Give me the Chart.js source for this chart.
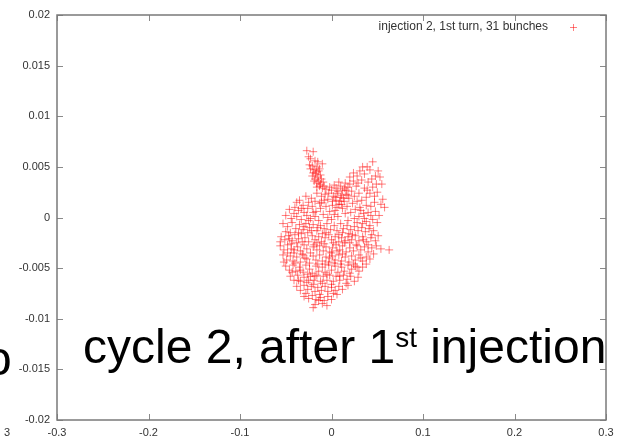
<!DOCTYPE html>
<html>
<head>
<meta charset="utf-8">
<script src="https://cdn.jsdelivr.net/npm/chart.js@4"></script>
<style>
  html, body { margin: 0; padding: 0; background: #fff; }
  #wrap { position: relative; width: 628px; height: 441px; overflow: hidden; font-family: "Liberation Sans", Arial, sans-serif; }
  #plot { position: absolute; left: 0; top: 0; }
  .big { position: absolute; font-size: 48px; line-height: 48px; color: #000; white-space: nowrap; }
  .big sup { font-size: 28px; vertical-align: baseline; position: relative; top: -16px; }
  .small { position: absolute; font-size: 11px; line-height: 12px; color: #333; }
</style>
</head>
<body>
<div id="wrap">
  <canvas id="plot" width="628" height="441"></canvas>
  <div class="big" style="left:-15px; top:335px;">o</div>
  <div class="big" style="left:83px; top:323px;">cycle 2, after 1<sup>st</sup> injection</div>
  <div class="small" style="left:4px; top:426px;">3</div>
</div>
<script>
const seriesLabel = 'injection 2, 1st turn, 31 bunches';
const xTicks = [-0.3, -0.2, -0.1, 0, 0.1, 0.2, 0.3];
const yTicks = [-0.02, -0.015, -0.01, -0.005, 0, 0.005, 0.01, 0.015, 0.02];

// the thin tail going up on the left
const horn = [
  [-0.027,0.0066],[-0.020,0.0065],[-0.023,0.0058],[-0.010,0.0053],[-0.025,0.0060],[-0.018,0.0056],
  [-0.021,0.0051],[-0.016,0.0050],[-0.023,0.0048],[-0.019,0.0047],[-0.014,0.0046],[-0.020,0.0044],
  [-0.017,0.0043],[-0.012,0.0042],[-0.021,0.0041],[-0.015,0.0040],[-0.018,0.0038],[-0.011,0.0038],
  [-0.014,0.0036],[-0.016,0.0034],[-0.009,0.0035],[-0.012,0.0033],[-0.019,0.0036],[-0.013,0.0031],
  [-0.008,0.0031],[-0.010,0.0029],[-0.016,0.0030],[-0.006,0.0028],[-0.017,0.0045],[-0.015,0.0055],
  [-0.024,0.0052],[-0.013,0.0048]
];

// upper right lobe
const lobe = [
  [0.045,0.0055],[0.039,0.0050],[0.051,0.0046],[0.031,0.0046],[0.048,0.0041],[0.028,0.0041],
  [0.036,0.0043],[0.042,0.0047],[0.055,0.0033],[0.050,0.0025],[0.056,0.0018],[0.058,0.0010],
  [0.048,0.0006],[0.050,-0.0005],[0.020,0.0040],[0.024,0.0036],[0.033,0.0037],[0.040,0.0035],
  [0.045,0.0030],[0.015,0.0034],[0.010,0.0031],[0.018,0.0030],[0.027,0.0031],[0.036,0.0029],
  [0.042,0.0024],[0.005,0.0029],[0.000,0.0027],[0.012,0.0027],[0.022,0.0026],[0.030,0.0024],
  [0.038,0.0020],[0.047,0.0015],[-0.003,0.0024],[0.006,0.0024],[0.016,0.0023],[0.025,0.0021],
  [0.033,0.0017],[0.043,0.0011],[0.002,0.0021],[0.010,0.0020],[0.019,0.0019],[0.028,0.0016],
  [0.038,0.0012],[0.052,0.0002],[-0.004,0.0018],[0.005,0.0017],[0.014,0.0016],[0.023,0.0014],
  [0.031,0.0010],[0.040,0.0005],[0.045,-0.0002],[0.008,0.0013],[0.017,0.0011],[0.026,0.0008],
  [0.035,0.0004],[0.042,-0.0008],[0.001,0.0012],[0.012,0.0009],[0.021,0.0005],[0.030,0.0001],
  [0.038,-0.0004],[0.004,0.0007],[0.015,0.0004],[0.025,-0.0001],[0.034,-0.0006],[0.011,0.0022],
  [0.020,0.0033],[0.008,0.0035],[0.003,0.0032],[-0.002,0.0030],[0.007,0.0026],[0.013,0.0019],
  [0.009,0.0016],[0.016,0.0027],[0.004,0.0020],[0.011,0.0013],[0.018,0.0022],[0.006,0.0010],
  [0.014,0.0029],[0.001,0.0016],[0.034,0.0050],[0.044,0.0038],[0.053,0.0040],[0.029,0.0034],
  [0.039,0.0027],[0.047,0.0021],[0.054,0.0013],[0.032,0.0007],[0.043,0.0002],[0.036,-0.0001],
  [0.024,0.0044],[0.049,0.0033]
];

// main body
const core = [
  [-0.035,0.0017],[-0.028,0.0021],[-0.022,0.0019],[-0.016,0.0024],[-0.011,0.0021],[-0.007,0.0023],
  [-0.025,0.0015],[-0.031,0.0012],[-0.018,0.0016],[-0.013,0.0014],[-0.008,0.0017],[-0.040,0.0010],
  [-0.046,0.0008],[-0.041,0.0004],[-0.036,0.0007],[-0.030,0.0005],[-0.026,0.0009],[-0.021,0.0011],
  [-0.017,0.0006],[-0.012,0.0009],[-0.006,0.0011],[-0.002,0.0006],[-0.050,0.0002],[-0.044,-0.0001],
  [-0.038,0.0001],[-0.033,-0.0002],[-0.027,0.0002],[-0.023,-0.0001],[-0.018,0.0001],[-0.014,-0.0003],
  [-0.009,0.0003],[-0.004,0.0000],[0.000,-0.0002],[0.007,0.0001],[0.018,-0.0003],[0.028,-0.0005],
  [-0.053,-0.0006],[-0.048,-0.0009],[-0.043,-0.0005],[-0.039,-0.0011],[-0.035,-0.0007],[-0.031,-0.0012],
  [-0.028,-0.0006],[-0.024,-0.0010],[-0.020,-0.0007],[-0.016,-0.0013],[-0.012,-0.0008],[-0.008,-0.0011],
  [-0.005,-0.0006],[-0.001,-0.0012],[0.003,-0.0008],[0.006,-0.0013],[0.010,-0.0006],[0.013,-0.0011],
  [0.017,-0.0008],[0.021,-0.0012],[0.025,-0.0009],[0.029,-0.0013],[0.033,-0.0010],[0.037,-0.0014],
  [0.041,-0.0011],[0.046,-0.0013],[-0.050,-0.0014],[-0.045,-0.0015],[-0.026,-0.0015],[-0.010,-0.0016],
  [0.008,-0.0017],[0.019,-0.0016],
  [-0.055,-0.0019],[-0.051,-0.0022],[-0.047,-0.0018],[-0.043,-0.0023],[-0.040,-0.0017],[-0.036,-0.0021],
  [-0.033,-0.0016],[-0.029,-0.0020],[-0.025,-0.0024],[-0.021,-0.0018],[-0.018,-0.0022],[-0.014,-0.0019],
  [-0.011,-0.0024],[-0.007,-0.0020],[-0.003,-0.0017],[0.000,-0.0022],[0.004,-0.0019],[0.008,-0.0024],
  [0.011,-0.0020],[0.015,-0.0023],[0.018,-0.0019],[0.022,-0.0022],[0.026,-0.0018],[0.030,-0.0023],
  [0.034,-0.0019],[0.038,-0.0024],[0.043,-0.0020],[0.048,-0.0023],[0.051,-0.0018],[-0.038,-0.0025],
  [-0.016,-0.0025],[0.002,-0.0025],[0.020,-0.0025],
  [-0.056,-0.0028],[-0.052,-0.0032],[-0.048,-0.0027],[-0.044,-0.0031],[-0.041,-0.0035],[-0.037,-0.0029],
  [-0.034,-0.0033],[-0.030,-0.0027],[-0.027,-0.0031],[-0.023,-0.0035],[-0.020,-0.0029],[-0.016,-0.0032],
  [-0.013,-0.0028],[-0.009,-0.0033],[-0.006,-0.0029],[-0.002,-0.0034],[0.001,-0.0030],[0.005,-0.0027],
  [0.009,-0.0032],[0.012,-0.0028],[0.016,-0.0034],[0.020,-0.0030],[0.024,-0.0033],[0.028,-0.0028],
  [0.032,-0.0032],[0.036,-0.0029],[0.040,-0.0034],[0.044,-0.0030],[0.049,-0.0028],[0.063,-0.0032],
  [0.054,-0.0031],
  [-0.053,-0.0037],[-0.049,-0.0042],[-0.045,-0.0038],[-0.042,-0.0043],[-0.038,-0.0039],[-0.034,-0.0044],
  [-0.031,-0.0037],[-0.027,-0.0041],[-0.024,-0.0045],[-0.020,-0.0038],[-0.017,-0.0042],[-0.013,-0.0037],
  [-0.010,-0.0043],[-0.006,-0.0039],[-0.003,-0.0044],[0.001,-0.0038],[0.004,-0.0042],[0.008,-0.0037],
  [0.011,-0.0043],[0.015,-0.0039],[0.019,-0.0044],[0.022,-0.0038],[0.026,-0.0042],[0.030,-0.0037],
  [0.034,-0.0043],[0.038,-0.0039],[0.042,-0.0041],[0.046,-0.0036],
  [-0.050,-0.0048],[-0.046,-0.0052],[-0.042,-0.0047],[-0.039,-0.0053],[-0.035,-0.0049],[-0.031,-0.0054],
  [-0.028,-0.0047],[-0.024,-0.0051],[-0.021,-0.0055],[-0.017,-0.0048],[-0.014,-0.0053],[-0.010,-0.0049],
  [-0.007,-0.0054],[-0.003,-0.0047],[0.000,-0.0052],[0.004,-0.0048],[0.007,-0.0054],[0.011,-0.0049],
  [0.014,-0.0053],[0.018,-0.0047],[0.022,-0.0051],[0.026,-0.0048],[0.030,-0.0053],[0.034,-0.0049],
  [0.038,-0.0046],[-0.026,-0.0056],[-0.005,-0.0056],
  [-0.045,-0.0058],[-0.041,-0.0062],[-0.037,-0.0057],[-0.034,-0.0063],[-0.030,-0.0059],[-0.027,-0.0064],
  [-0.023,-0.0058],[-0.019,-0.0062],[-0.016,-0.0057],[-0.012,-0.0063],[-0.009,-0.0058],[-0.005,-0.0062],
  [-0.002,-0.0057],[0.002,-0.0063],[0.005,-0.0058],[0.009,-0.0062],[0.013,-0.0057],[0.017,-0.0061],
  [0.021,-0.0058],[0.025,-0.0063],[0.029,-0.0059],[-0.020,-0.0066],[0.000,-0.0066],
  [-0.038,-0.0068],[-0.034,-0.0072],[-0.030,-0.0067],[-0.026,-0.0071],[-0.022,-0.0068],[-0.018,-0.0073],
  [-0.015,-0.0069],[-0.011,-0.0072],[-0.007,-0.0068],[-0.004,-0.0073],[0.000,-0.0069],[0.004,-0.0072],
  [0.008,-0.0068],[0.012,-0.0071],[0.018,-0.0067],[-0.028,-0.0075],[-0.013,-0.0076],[0.002,-0.0075],
  [-0.030,-0.0078],[-0.025,-0.0080],[-0.021,-0.0077],[-0.017,-0.0081],[-0.012,-0.0079],[-0.008,-0.0082],
  [-0.004,-0.0078],[0.000,-0.0081],[-0.018,-0.0086],[-0.010,-0.0085],[-0.020,-0.0089],[-0.005,-0.0087]
];

// extra points where the cloud is thickest
const dense = [
  [-0.044,-0.0026],[-0.032,-0.0024],[-0.019,-0.0027],[-0.008,-0.0026],[0.006,-0.0033],[0.014,-0.0025],
  [-0.040,-0.0045],[-0.029,-0.0040],[-0.015,-0.0046],[-0.002,-0.0040],[0.010,-0.0046],[0.024,-0.0046],
  [-0.036,-0.0015],[-0.022,-0.0013],[-0.006,-0.0015],[0.012,-0.0015],[0.027,-0.0027],[-0.048,-0.0035],
  [-0.034,-0.0052],[-0.018,-0.0058],[0.003,-0.0045],[0.016,-0.0065],[-0.010,-0.0065],[-0.025,-0.0003],
  [-0.011,0.0015],[0.003,0.0003],[-0.038,0.0015],[-0.032,-0.0036],[0.032,-0.0040],[0.040,-0.0027],
  [-0.052,-0.0044],[-0.043,-0.0054],[-0.056,-0.0024],[-0.030,-0.0009],[-0.015,-0.0010],[0.000,-0.0035],
  [0.012,-0.0036],[0.023,-0.0017],[0.035,-0.0022],[-0.041,-0.0032],[-0.025,-0.0062],[-0.007,-0.0046],
  [0.020,-0.0055],[0.009,-0.0058],[-0.046,-0.0021],[-0.020,0.0005],[-0.033,0.0009],[0.044,-0.0017],
  [-0.014,-0.0082],[0.006,-0.0076],[-0.036,-0.0062],[0.028,-0.0049]
];

const points = [...horn, ...lobe, ...core, ...dense].map(([x, y]) => ({ x, y }));
const red = 'rgba(255,0,0,0.5)';
const fmt = v => String(Number(v.toFixed(4)));

function drawCross(ctx, x, y, r) {
  ctx.beginPath();
  ctx.moveTo(x - r, y); ctx.lineTo(x + r, y);
  ctx.moveTo(x, y - r); ctx.lineTo(x, y + r);
  ctx.stroke();
}

// gnuplot style box with ticks pointing inwards on all sides
const framePlugin = {
  id: 'frame',
  beforeDatasetsDraw(chart) {
    const { ctx, chartArea: a, scales: { x, y } } = chart;
    ctx.save();
    ctx.strokeStyle = '#8a8a8a';
    ctx.lineWidth = 1;
    ctx.beginPath();
    xTicks.forEach(v => {
      const px = Math.round(x.getPixelForValue(v)) + 0.5;
      ctx.moveTo(px, a.bottom); ctx.lineTo(px, a.bottom - 6);
      ctx.moveTo(px, a.top); ctx.lineTo(px, a.top + 6);
    });
    yTicks.forEach(v => {
      const py = Math.round(y.getPixelForValue(v)) + 0.5;
      ctx.moveTo(a.left, py); ctx.lineTo(a.left + 6, py);
      ctx.moveTo(a.right, py); ctx.lineTo(a.right - 6, py);
    });
    ctx.stroke();
    ctx.strokeStyle = '#7a7a7a';
    ctx.lineWidth = 1.5;
    ctx.strokeRect(a.left, a.top, a.right - a.left, a.bottom - a.top);
    ctx.restore();
  },
  afterDraw(chart) {
    const { ctx, chartArea: a } = chart;
    ctx.save();
    ctx.font = '12px "Liberation Sans", Arial, sans-serif';
    ctx.fillStyle = '#333';
    ctx.textAlign = 'right';
    ctx.textBaseline = 'middle';
    ctx.fillText(seriesLabel, a.right - 58, a.top + 12);
    ctx.strokeStyle = red;
    ctx.lineWidth = 1;
    drawCross(ctx, a.right - 32.5, a.top + 12.5, 3.5);
    ctx.restore();
  }
};

new Chart(document.getElementById('plot'), {
  type: 'scatter',
  data: {
    datasets: [{
      label: seriesLabel,
      data: points,
      pointStyle: 'cross',
      pointRadius: 4,
      pointHoverRadius: 4,
      borderColor: red,
      backgroundColor: red,
      borderWidth: 1
    }]
  },
  options: {
    responsive: false,
    animation: false,
    events: [],
    layout: { padding: { top: 15, right: 22, left: 0, bottom: 0 } },
    plugins: { legend: { display: false }, tooltip: { enabled: false } },
    scales: {
      x: {
        type: 'linear',
        min: -0.3, max: 0.3,
        afterBuildTicks: s => { s.ticks = xTicks.map(v => ({ value: v })); },
        afterFit: s => { s.height = 21; },
        grid: { display: false, drawTicks: false, tickLength: 0 },
        border: { display: false },
        ticks: {
          padding: 6,
          color: '#333',
          font: { family: '"Liberation Sans", Arial, sans-serif', size: 11 },
          maxRotation: 0,
          callback: v => fmt(v)
        }
      },
      y: {
        type: 'linear',
        min: -0.02, max: 0.02,
        afterBuildTicks: s => { s.ticks = yTicks.map(v => ({ value: v })); },
        afterFit: s => { s.width = 57; },
        grid: { display: false, drawTicks: false, tickLength: 0 },
        border: { display: false },
        ticks: {
          padding: 7,
          color: '#333',
          font: { family: '"Liberation Sans", Arial, sans-serif', size: 11 },
          callback: v => fmt(v)
        }
      }
    }
  },
  plugins: [framePlugin]
});
</script>
</body>
</html>
